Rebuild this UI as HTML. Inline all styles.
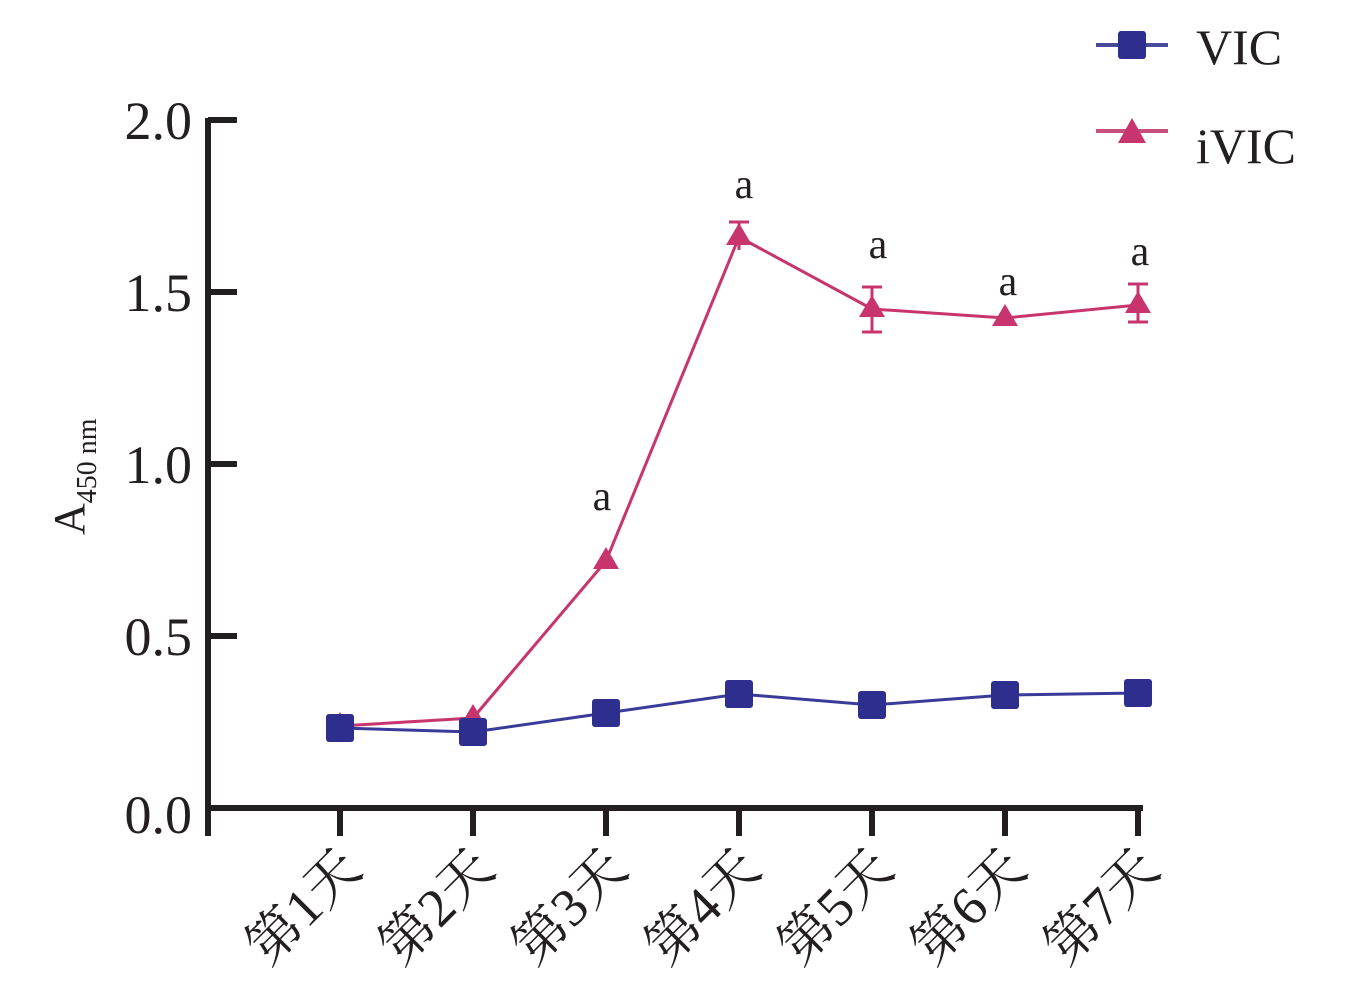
<!DOCTYPE html>
<html><head><meta charset="utf-8"><style>body{margin:0;background:#fff}</style></head><body>
<svg width="1349" height="992" xmlns="http://www.w3.org/2000/svg" font-family="Liberation Serif, Noto Serif CJK SC, serif">
<rect width="1349" height="992" fill="#fff"/>
<g stroke="#231f20" stroke-width="6" fill="none">
<path d="M208,118 V836"/><path d="M205,808 H1143"/>
<path d="M208,120 H237 M208,292 H237 M208,464 H237 M208,636 H237"/>
<path d="M340,808 V836 M473,808 V836 M606,808 V836 M739,808 V836 M872,808 V836 M1005,808 V836 M1138,808 V836"/>
</g>
<g font-size="54" fill="#231f20" text-anchor="end">
<text x="192" y="139">2.0</text><text x="192" y="311">1.5</text><text x="192" y="483">1.0</text><text x="192" y="655">0.5</text><text x="192" y="833">0.0</text>
</g>
<text transform="translate(84,535) rotate(-90)" font-size="44" fill="#231f20">A<tspan font-size="28" dy="12">450 nm</tspan></text>
<g font-size="54" fill="#231f20" text-anchor="end">
<text transform="translate(364,872) rotate(-45)">第1天</text>
<text transform="translate(497,872) rotate(-45)">第2天</text>
<text transform="translate(630,872) rotate(-45)">第3天</text>
<text transform="translate(763,872) rotate(-45)">第4天</text>
<text transform="translate(896,872) rotate(-45)">第5天</text>
<text transform="translate(1029,872) rotate(-45)">第6天</text>
<text transform="translate(1162,872) rotate(-45)">第7天</text>
</g>
<g stroke="#c8356e" stroke-width="3" fill="none">
<path d="M739,222 V250 M729,222 H749 M872,287 V332 M862,287 H882 M862,332 H882 M1138,284 V322 M1128,284 H1148 M1128,322 H1148 M606,553 V568"/>
<polyline points="340,726 473,718 606,561 739,237 872,309 1005,318 1138,305"/>
</g>
<g fill="#c8356e">
<path d="M340,712 l13,22 h-26z M473,704 l13,22 h-26z M606,547 l13,22 h-26z M739,223 l13,22 h-26z M872,295 l13,22 h-26z M1005,304 l13,22 h-26z M1138,291 l13,22 h-26z"/>
</g>
<polyline points="340,728 473,732 606,713 739,694 872,705 1005,695 1138,693" stroke="#3a3a9a" stroke-width="3" fill="none"/>
<g fill="#2e2e8e">
<rect x="326" y="714" width="28" height="28" rx="3"/><rect x="459" y="718" width="28" height="28" rx="3"/><rect x="592" y="699" width="28" height="28" rx="3"/><rect x="725" y="680" width="28" height="28" rx="3"/><rect x="858" y="691" width="28" height="28" rx="3"/><rect x="991" y="681" width="28" height="28" rx="3"/><rect x="1124" y="679" width="28" height="28" rx="3"/>
</g>
<g font-size="42" fill="#231f20" text-anchor="middle">
<text x="602" y="510">a</text><text x="744" y="198">a</text><text x="878" y="258">a</text><text x="1008" y="295">a</text><text x="1140" y="265">a</text>
</g>
<path d="M1096,45 H1168" stroke-width="4" stroke="#4a4a9a"/>
<path d="M1096,131 H1168" stroke-width="4" stroke="#c8507e"/>
<rect x="1118" y="31" width="28" height="28" rx="3" fill="#2e2e8e"/>
<path d="M1132,118 l14,25 h-28z" fill="#c8356e"/>
<g font-size="50" fill="#231f20"><text x="1196" y="64">VIC</text><text x="1196" y="163">iVIC</text></g>
</svg>
</body></html>
